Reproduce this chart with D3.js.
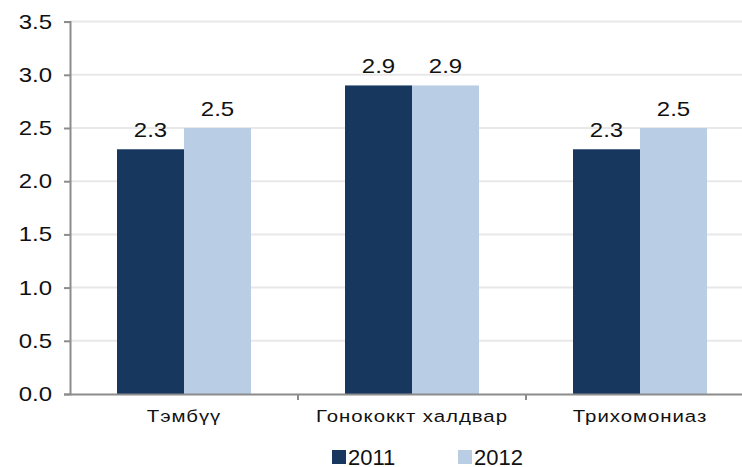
<!DOCTYPE html>
<html>
<head>
<meta charset="utf-8">
<script src="https://cdn.jsdelivr.net/npm/d3@7"></script>
<style>
body { margin: 0; background: #fff; }
svg { font-family: "Liberation Sans", Arial, sans-serif; }
</style>
</head>
<body>
<div></div>
<script>
var categories = ['Тэмбүү', 'Гонококкт халдвар', 'Трихомониаз'];
var years = ['2011', '2012'];
var values2011 = [2.3, 2.9, 2.3];
var values2012 = [2.5, 2.9, 2.5];
var yTicks = [0, 0.5, 1.0, 1.5, 2.0, 2.5, 3.0, 3.5];
var colors = ['#17375e', '#b9cde5'];

var width = 742;
var height = 467;
var plotLeft = 70, plotRight = 754, plotTop = 21.6, plotBottom = 394;
var groupWidth = 134;
var stretchK = 1.2; // the original text is drawn wider than normal

var svg = d3.select('div')
    .append('svg')
    .attr('width', width)
    .attr('height', height);

var xscale = d3.scaleBand()
    .domain(categories)
    .range([plotLeft, plotRight]);

var inner = d3.scaleBand()
    .domain(years)
    .range([0, groupWidth]);

var yscale = d3.scaleLinear()
    .domain([0, 3.5])
    .range([plotBottom, plotTop]);

// horizontally stretch texts
function stretch(sel) {
    sel.each(function() {
        var t = d3.select(this);
        var x = +t.attr('x') || 0;
        t.attr('x', x / stretchK).attr('transform', 'scale(' + stretchK + ',1)');
    });
}

// gridlines
svg.selectAll('.grid')
    .data(yTicks.slice(1))
    .enter()
    .append('line')
    .attr('x1', plotLeft)
    .attr('x2', plotRight)
    .attr('y1', d => yscale(d))
    .attr('y2', d => yscale(d))
    .attr('stroke', '#e8e8e8')
    .attr('stroke-width', 2);

// bars
var rows = categories.map(function(c, i) {
    return [{cat: c, year: '2011', value: values2011[i]}, {cat: c, year: '2012', value: values2012[i]}];
});
var flat = [].concat.apply([], rows);

function barX(d) {
    return xscale(d.cat) + (xscale.bandwidth() - groupWidth) / 2 + inner(d.year);
}

svg.selectAll('rect.bar')
    .data(flat)
    .enter()
    .append('rect')
    .attr('class', 'bar')
    .attr('x', barX)
    .attr('y', d => yscale(d.value))
    .attr('width', inner.bandwidth())
    .attr('height', d => plotBottom - yscale(d.value))
    .attr('fill', d => colors[years.indexOf(d.year)]);

// value labels
svg.selectAll('text.val')
    .data(flat)
    .enter()
    .append('text')
    .attr('class', 'val')
    .text(d => d.value.toFixed(1))
    .attr('x', d => barX(d) + inner.bandwidth() / 2)
    .attr('y', d => yscale(d.value) - 12)
    .attr('text-anchor', 'middle')
    .attr('font-size', 20)
    .attr('fill', '#111')
    .call(stretch);

// y axis
var yaxis = d3.axisLeft(yscale)
    .tickValues(yTicks)
    .tickFormat(d3.format('.1f'))
    .tickSize(6)
    .tickPadding(12);

var gy = svg.append('g')
    .attr('transform', 'translate(' + plotLeft + ',0)')
    .call(yaxis);
gy.select('.domain').attr('stroke', '#8c8c8c').attr('stroke-width', 2);
gy.selectAll('.tick line').attr('stroke', '#8c8c8c').attr('stroke-width', 2);
gy.selectAll('.tick text').attr('font-size', 20).attr('fill', '#111')
    .attr('font-family', '"Liberation Sans", Arial, sans-serif')
    .call(stretch);

// x axis
var xaxis = d3.axisBottom(xscale)
    .tickSize(0)
    .tickPadding(16);

var gx = svg.append('g')
    .attr('transform', 'translate(0,' + plotBottom + ')')
    .call(xaxis);
gx.select('.domain').attr('stroke', '#8c8c8c').attr('stroke-width', 2);
gx.selectAll('.tick text').attr('font-size', 17).attr('fill', '#111')
    .attr('letter-spacing', 0.8)
    .attr('font-family', '"Liberation Sans", Arial, sans-serif')
    .call(stretch);

// category boundary ticks
gx.selectAll('.sep')
    .data(categories.slice(1))
    .enter()
    .append('line')
    .attr('x1', d => xscale(d))
    .attr('x2', d => xscale(d))
    .attr('y1', 0)
    .attr('y2', 6)
    .attr('stroke', '#8c8c8c')
    .attr('stroke-width', 2);

// legend
var legend = svg.append('g');
var lx = [332, 458];
years.forEach(function(y, i) {
    legend.append('rect')
        .attr('x', lx[i])
        .attr('y', 450)
        .attr('width', 14)
        .attr('height', 14)
        .attr('fill', colors[i]);
    legend.append('text')
        .attr('x', lx[i] + 16)
        .attr('y', 465)
        .attr('font-size', 22)
        .attr('fill', '#111')
        .text(y);
});
</script>
</body>
</html>
